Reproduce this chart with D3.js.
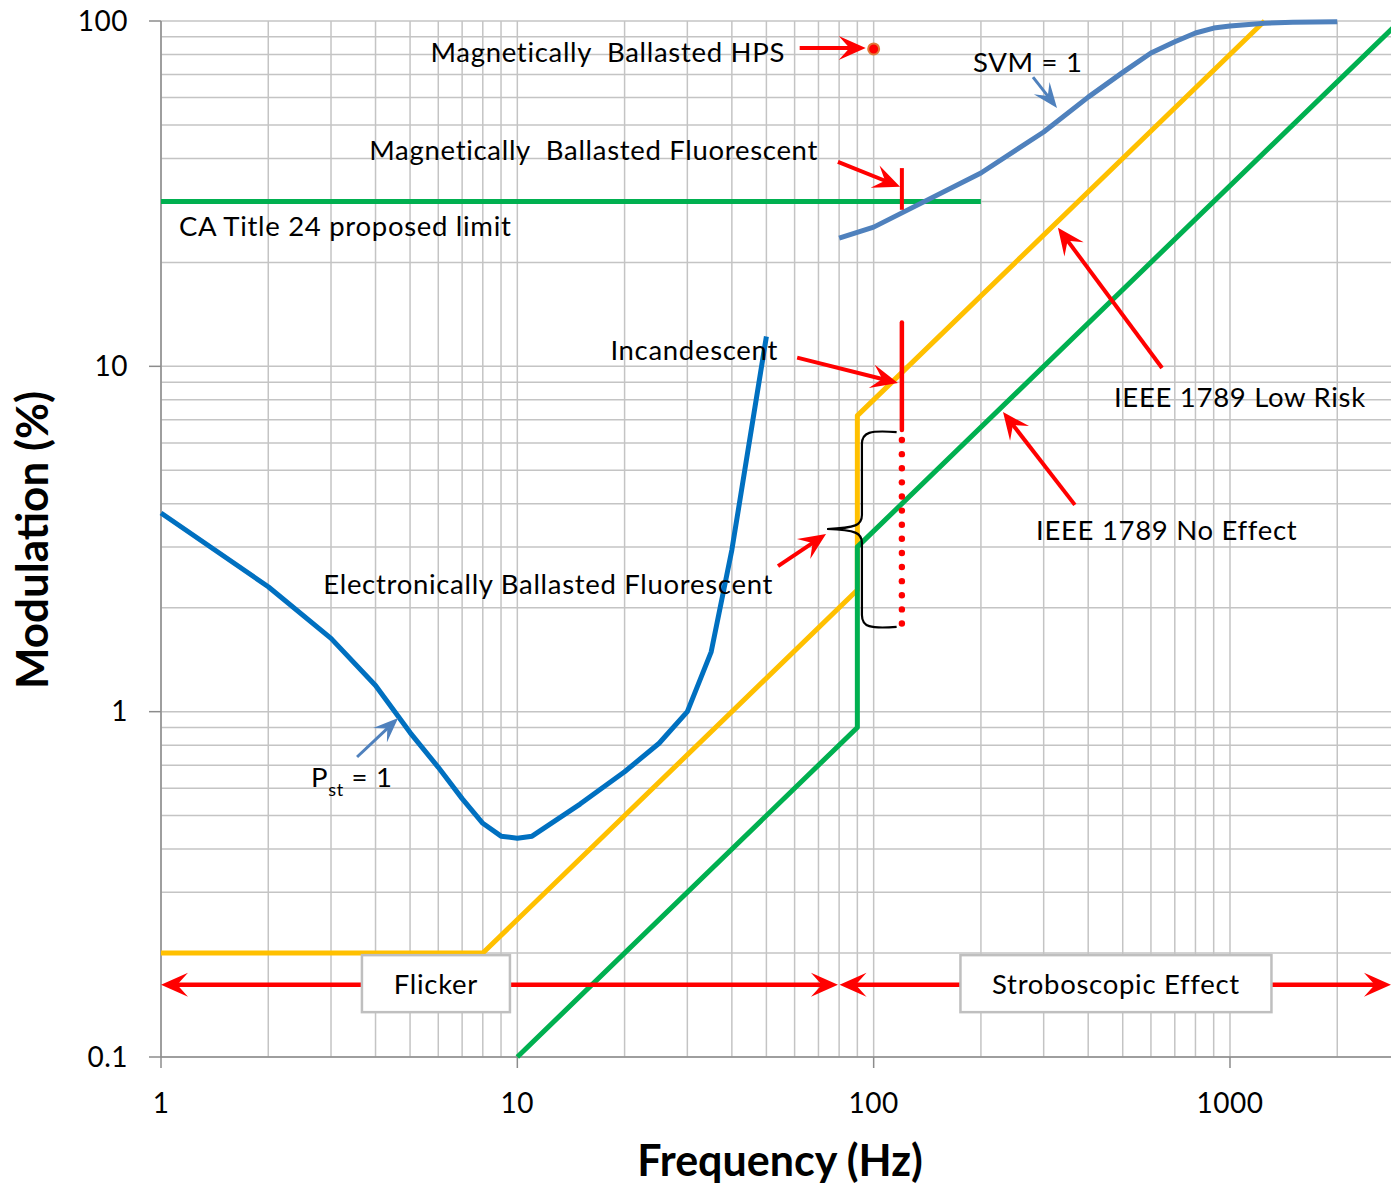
<!DOCTYPE html>
<html>
<head>
<meta charset="utf-8">
<script src="https://cdn.jsdelivr.net/npm/d3@7"></script>
<style>
  html, body { margin: 0; padding: 0; background: #fff; }
  svg { display: block; }
  text { font-family: Lato, "Open Sans", sans-serif; fill: #000; }
</style>
</head>
<body>
<svg id="chart" width="1391" height="1185"></svg>
<script>
// Flicker / stroboscopic modulation limits vs. frequency

// Pst = 1 (electronically ballasted fluorescent sensitivity curve)
const pstFreq = [1, 2, 3, 4, 5, 6, 7, 8, 9, 10, 11, 15, 20, 25, 30, 35, 40, 50];
const pstMod  = [3.76, 2.3, 1.63, 1.19, 0.87, 0.69, 0.56, 0.475, 0.436, 0.43, 0.436, 0.54, 0.67, 0.81, 1.0, 1.49, 2.94, 12.2];

// SVM = 1 curve
const svmFreq = [80, 100, 200, 300, 400, 500, 600, 700, 800, 900, 1000, 1250, 1500, 2000];
const svmMod  = [23.5, 25.3, 36.3, 47.7, 60.2, 71, 80.8, 87.1, 92.3, 95.4, 96.7, 98.5, 99.2, 99.5];

// IEEE 1789 Low Risk
const lowRiskFreq = [1, 8, 90, 90, 1250];
const lowRiskMod  = [0.2, 0.2, 2.25, 7.2, 100];

// IEEE 1789 No Effect
const noEffectFreq = [10, 90, 90, 3000];
const noEffectMod  = [0.1, 0.9, 3.0, 100];

// CA Title 24 proposed limit
const caFreq = [1, 200];
const caMod  = [30, 30];

// Measured lamps
const hpsPoint = [100, 83];                 // magnetically ballasted HPS
const mbfRange = [120, 28.4, 37.5];         // magnetically ballasted fluorescent
const incSolid = [120, 6.54, 13.4];         // incandescent
const incDotted = [120, 1.8, 6.54];
const braceSpan = [92.7, 116, 74, 1.76, 3.38, 6.45]; // xVert, xEnd, xTip, mLow, mMid, mHigh

// Tick labels
const xTicks = [1, 10, 100, 1000];
const xTickLabels = ["1", "10", "100", "1000"];
const yTicks = [0.1, 1, 10, 100];
const yTickLabels = ["0.1", "1", "10", "100"];

// Annotation labels: [text, freq, mod, anchor]
const labels = [
  ["Magnetically  Ballasted HPS", 56.4, 76.1, "end"],
  ["Magnetically  Ballasted Fluorescent", 69.8, 39.6, "end"],
  ["CA Title 24 proposed limit", 1.123, 23.8, "start"],
  ["SVM = 1", 190, 71.2, "start"],
  ["Incandescent", 53.9, 10.43, "end"],
  ["IEEE 1789 Low Risk", 472.5, 7.62, "start"],
  ["IEEE 1789 No Effect", 285.5, 3.14, "start"],
  ["Electronically Ballasted Fluorescent", 52.2, 2.19, "end"]
];

// Arrows: [tailFreq, tailMod, tipFreq, tipMod, colour]
const arrows = [
  [62, 83.5, 95, 83.5, "red"],
  [79.4, 39.1, 118.6, 33.1, "red"],
  [61, 10.6, 117, 8.95, "red"],
  [53.9, 2.64, 73.5, 3.27, "red"],
  [644.7, 9.89, 329, 25.2, "red"],
  [367, 3.97, 230.7, 7.37, "red"],
  [280, 68.8, 327, 56, "blue"],
  [3.55, 0.739, 4.63, 0.958, "blue"]
];

// Region bands: [label, fromFreq, toFreq, boxFreq, boxWidth]
const regions = [
  ["Flicker", 1, 79.4, 5.91, 148],
  ["Stroboscopic Effect", 80.2, 2830, 478.6, 311]
];
const regionMod = 0.162;

const svg = d3.select("#chart");
const x = d3.scaleLog().domain([1, 3000]).range([161, 161 + 356.33 * Math.log10(3000)]);
const y = d3.scaleLog().domain([0.1, 100]).range([1057, 21]);

const RED = "#ff0000", BLUE_ARROW = "#4f81bd";
const colourOf = c => c === "red" ? RED : BLUE_ARROW;
const LABEL_SIZE = 27.5, LABEL_SPACING = 0.7;

// Grid
const gridX = [];
for (let d = 1; d <= 1000; d *= 10) for (let k = 1; k <= 9; k++) if (d * k <= 3000) gridX.push(d * k);
const gridY = [];
for (let d = 0.1; d <= 10.0001; d *= 10) for (let k = 1; k <= 9; k++) gridY.push(+(d * k).toPrecision(3));
gridY.push(100);

const grid = svg.append("g").attr("stroke", "#c4c4c4").attr("stroke-width", 1.5);
grid.selectAll(".gx").data(gridX).join("line")
  .attr("x1", d => x(d)).attr("x2", d => x(d))
  .attr("y1", y(100)).attr("y2", y(0.1));
grid.selectAll(".gy").data(gridY).join("line")
  .attr("x1", x(1)).attr("x2", x(3000))
  .attr("y1", d => y(d)).attr("y2", d => y(d));

// Axes
const axisG = svg.append("g").attr("stroke", "#8c8c8c").attr("stroke-width", 1.5);
axisG.append("line").attr("x1", x(1)).attr("x2", x(1)).attr("y1", y(100)).attr("y2", y(0.1));
axisG.append("line").attr("x1", x(1)).attr("x2", x(3000)).attr("y1", y(0.1)).attr("y2", y(0.1));
axisG.selectAll(".ty").data(yTicks).join("line")
  .attr("x1", x(1) - 12).attr("x2", x(1)).attr("y1", d => y(d)).attr("y2", d => y(d));
axisG.selectAll(".tx").data(xTicks).join("line")
  .attr("x1", d => x(d)).attr("x2", d => x(d)).attr("y1", y(0.1)).attr("y2", y(0.1) + 11);

svg.append("g").selectAll("text").data(yTicks).join("text")
  .attr("x", x(1) - 33).attr("y", d => y(d)).attr("dy", "0.35em")
  .attr("text-anchor", "end").attr("font-size", 28).attr("letter-spacing", 0.5)
  .text((d, i) => yTickLabels[i]);
svg.append("g").selectAll("text").data(xTicks).join("text")
  .attr("x", d => x(d)).attr("y", 1113)
  .attr("text-anchor", "middle").attr("font-size", 28).attr("letter-spacing", 0.5)
  .text((d, i) => xTickLabels[i]);

svg.append("text").attr("x", 780).attr("y", 1176).attr("text-anchor", "middle")
  .attr("font-size", 43).attr("font-weight", 700).text("Frequency (Hz)");
svg.append("text").attr("transform", "translate(48,540) rotate(-90)").attr("text-anchor", "middle")
  .attr("font-size", 44).attr("font-weight", 700).text("Modulation (%)");

// Series lines
const line = d3.line().x(d => x(d[0])).y(d => y(d[1]));
const zip = (a, b) => a.map((v, i) => [v, b[i]]);

const series = [
  [caFreq, caMod, "#00b050"],
  [pstFreq, pstMod, "#0070c0"],
  [lowRiskFreq, lowRiskMod, "#ffc000"],
  [noEffectFreq, noEffectMod, "#00b050"],
  [svmFreq, svmMod, "#4f81bd"]
];
svg.append("g").selectAll("path").data(series).join("path")
  .attr("d", d => line(zip(d[0], d[1])))
  .attr("fill", "none").attr("stroke", d => d[2]).attr("stroke-width", 5)
  .attr("stroke-linejoin", "round");

// Lamp markers
svg.append("line")
  .attr("x1", x(mbfRange[0])).attr("x2", x(mbfRange[0]))
  .attr("y1", y(mbfRange[1])).attr("y2", y(mbfRange[2]))
  .attr("stroke", RED).attr("stroke-width", 4);
svg.append("line")
  .attr("x1", x(incSolid[0])).attr("x2", x(incSolid[0]))
  .attr("y1", y(incSolid[1])).attr("y2", y(incSolid[2]))
  .attr("stroke", RED).attr("stroke-width", 4.5).attr("stroke-linecap", "round");
{
  const y0 = y(incDotted[2]) + 10, y1 = y(incDotted[1]);
  const dots = d3.range(y0, y1 + 0.5, (y1 - y0) / 13);
  svg.append("g").selectAll("circle").data(dots).join("circle")
    .attr("cx", x(incDotted[0])).attr("cy", d => d).attr("r", 3.2).attr("fill", RED);
}
svg.append("circle").attr("cx", x(hpsPoint[0])).attr("cy", y(hpsPoint[1])).attr("r", 5.5)
  .attr("fill", RED).attr("stroke", "#e07a3a").attr("stroke-width", 2);

// Curly brace
{
  const [fv, fe, ft, mLo, mMid, mHi] = braceSpan;
  const xv = x(fv), xe = x(fe), xt = x(ft), yLo = y(mLo), yMid = y(mMid), yHi = y(mHi);
  const p = d3.path();
  p.moveTo(xe, yHi);
  p.bezierCurveTo(xv + 8, yHi - 2, xv, yHi, xv, yHi + 12);
  p.lineTo(xv, yMid - 14);
  p.bezierCurveTo(xv, yMid - 4, xv - 6, yMid - 1, xt, yMid);
  p.moveTo(xt, yMid);
  p.bezierCurveTo(xv - 6, yMid + 1, xv, yMid + 4, xv, yMid + 14);
  p.lineTo(xv, yLo - 12);
  p.bezierCurveTo(xv, yLo, xv + 8, yLo + 2, xe, yLo);
  svg.append("path").attr("d", p.toString()).attr("fill", "none")
    .attr("stroke", "#000").attr("stroke-width", 2.2);
}

// Arrow helper
function arrowHead(g, x0, y0, x1, y1, colour, width, L, W) {
  const dx = x1 - x0, dy = y1 - y0, len = Math.hypot(dx, dy);
  const ux = dx / len, uy = dy / len, nx = -uy, ny = ux;
  const bx = x1 - ux * L, by = y1 - uy * L;
  const notchX = x1 - ux * L * 0.6, notchY = y1 - uy * L * 0.6;
  g.append("line").attr("x1", x0).attr("y1", y0)
    .attr("x2", notchX + ux * 2).attr("y2", notchY + uy * 2)
    .attr("stroke", colour).attr("stroke-width", width);
  g.append("path")
    .attr("d", `M${x1},${y1}L${bx + nx * W},${by + ny * W}L${notchX},${notchY}L${bx - nx * W},${by - ny * W}Z`)
    .attr("fill", colour);
}

const arrowG = svg.append("g");
arrows.forEach(a => {
  const c = colourOf(a[4]);
  const isRed = a[4] === "red";
  arrowHead(arrowG, x(a[0]), y(a[1]), x(a[2]), y(a[3]), c, isRed ? 4 : 3, isRed ? 27 : 25, isRed ? 12 : 10);
});

// Region bands with double-headed arrows and boxed labels
regions.forEach(r => {
  const yy = y(regionMod);
  const xa = x(r[1]), xb = x(r[2]), xc = x(r[3]);
  const mid = (xa + xb) / 2;
  arrowHead(arrowG, mid, yy, xa, yy, RED, 4.5, 27, 12);
  arrowHead(arrowG, mid, yy, xb, yy, RED, 4.5, 27, 12);
  const bw = r[4], bh = 57;
  svg.append("rect").attr("x", xc - bw / 2).attr("y", yy - bh / 2 - 1).attr("width", bw).attr("height", bh)
    .attr("fill", "#fff").attr("stroke", "#bfbfbf").attr("stroke-width", 2.5);
  svg.append("text").attr("x", xc).attr("y", yy).attr("dy", "0.35em").attr("text-anchor", "middle")
    .attr("font-size", LABEL_SIZE).attr("letter-spacing", LABEL_SPACING).text(r[0]);
});

// Annotation labels
svg.append("g").selectAll("text").data(labels).join("text")
  .attr("x", d => x(d[1])).attr("y", d => y(d[2]))
  .attr("text-anchor", d => d[3]).attr("font-size", LABEL_SIZE)
  .attr("letter-spacing", LABEL_SPACING)
  .style("white-space", "pre")
  .text(d => d[0]);

// P_st = 1 label
{
  const t = svg.append("text").attr("x", x(2.636)).attr("y", y(0.605))
    .attr("font-size", LABEL_SIZE).attr("letter-spacing", LABEL_SPACING);
  t.append("tspan").text("P");
  t.append("tspan").attr("font-size", 18).attr("dy", 9).text("st");
  t.append("tspan").attr("dy", -9).text(" = 1");
}
</script>
</body>
</html>
